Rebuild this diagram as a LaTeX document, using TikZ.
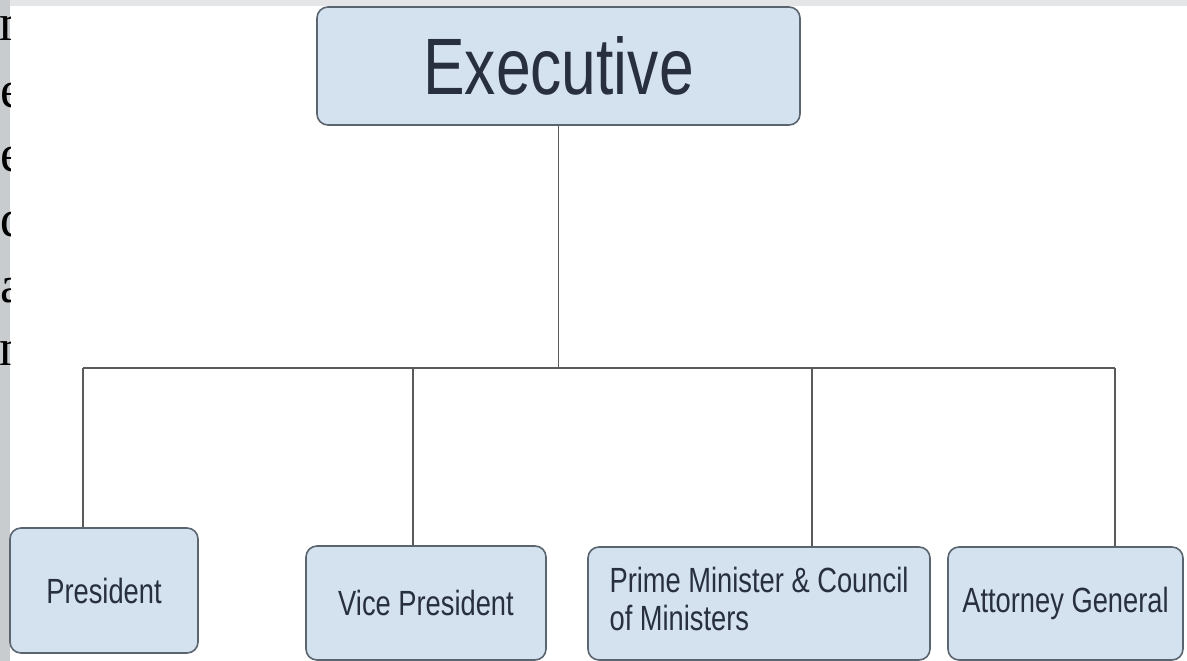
\documentclass[tikz,border=0pt]{standalone}
\usepackage{fontspec}
\setmainfont{Liberation Sans}
\newfontfamily\seriffont{Liberation Serif}
\definecolor{boxfill}{HTML}{D4E1EF}
\definecolor{boxdraw}{HTML}{5B6570}
\definecolor{boxtext}{HTML}{283040}
\definecolor{linecol}{HTML}{5A5A5A}
\definecolor{stripgray}{HTML}{C9CCCF}
\definecolor{topgray}{HTML}{E4E5E6}
\tikzset{
  box/.style={draw=boxdraw, line width=1.6pt, fill=boxfill, rounded corners=11pt,
    inner sep=0pt, text=boxtext, align=center},
  conn/.style={draw=linecol, line width=1.4pt},
  sidel/.style={anchor=base west, inner sep=0pt, font=\seriffont\fontsize{52}{52}\selectfont}
}
\newcommand{\sq}[1]{\scalebox{0.78}[1]{#1}}
\begin{document}
\begin{tikzpicture}[x=1pt,y=-1pt]
\useasboundingbox (0,0) rectangle (1187,661);
\fill[topgray] (0,0) rectangle (1187,661);
\fill[stripgray] (0,0) rectangle (10,661);
\fill[white] (10,6) rectangle (1187,661);
\begin{scope}
\clip (0,0) rectangle (10,661);
\node[sidel] (l1) at (-1,41) {m};
\node[sidel] (l2) at (0,107) {e};
\node[sidel] (l3) at (0,171) {e};
\node[sidel] (l4) at (0,236) {d};
\node[sidel] (l5) at (0,302) {a};
\node[sidel] (l6) at (-1,365) {n};
\end{scope}
% boxes
\node[box, minimum width=483pt, minimum height=118pt, font=\fontsize{80}{80}\selectfont] (exec) at (558.5,66) {\sq{Executive}};
\node[box, minimum width=188pt, minimum height=125pt, font=\fontsize{35}{40}\selectfont] (pres) at (104,590.5) {\sq{President}};
\node[box, minimum width=240pt, minimum height=114pt, font=\fontsize{35}{40}\selectfont] (vp) at (426,603) {\sq{Vice President}};
\node[box, minimum width=342pt, minimum height=113pt, font=\fontsize{35}{40}\selectfont] (pm) at (759,603.5) {\sq{\begin{tabular}{@{}l@{}}Prime Minister \& Council\\[-2pt] of Ministers\end{tabular}}};
\node[box, minimum width=235pt, minimum height=113pt, font=\fontsize{35}{40}\selectfont] (ag) at (1065.5,603.5) {\sq{Attorney General}};
% connectors
\coordinate (j) at (exec.south |- 0,368);
\coordinate (hl) at (83,368);
\coordinate (hvp) at (413,368);
\coordinate (hpm) at (812,368);
\coordinate (hr) at (1115,368);
\draw[conn] (exec.south) -- (j);
\draw[conn] (hl) -- (hr);
\draw[conn] (hl) -- (hl |- pres.north);
\draw[conn] (hvp) -- (hvp |- vp.north);
\draw[conn] (hpm) -- (hpm |- pm.north);
\draw[conn] (hr) -- (hr |- ag.north);
\end{tikzpicture}
\end{document}
